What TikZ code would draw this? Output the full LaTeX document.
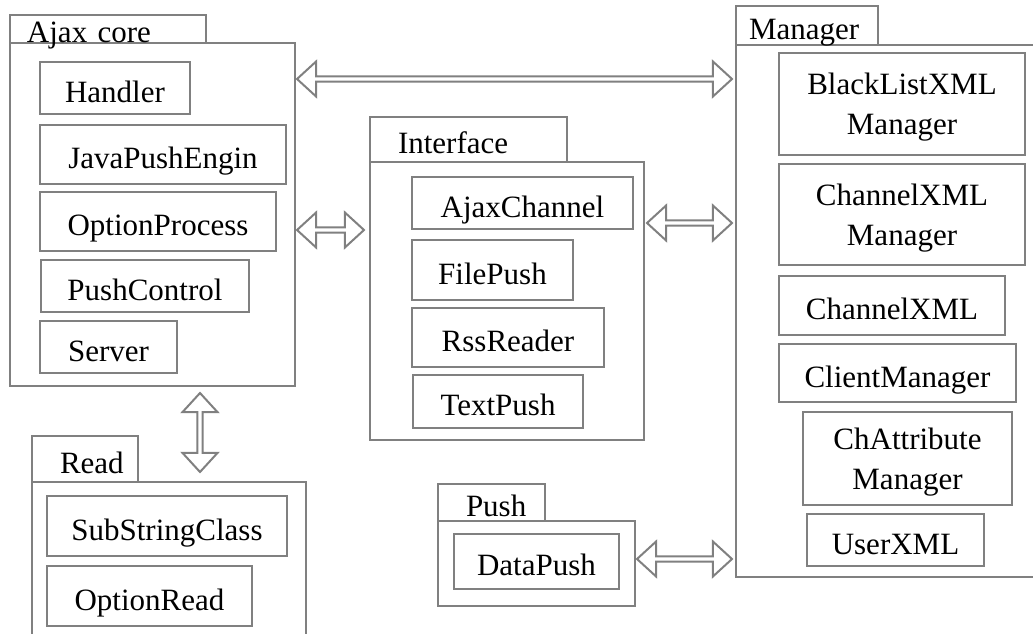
\documentclass[tikz,border=0pt]{standalone}
\usepackage{fontspec}
\setmainfont{Liberation Serif}
\usetikzlibrary{shapes.arrows,calc}

% double arrow between two points
\newcommand{\connect}[2]{%
  \path let \p1=($(#2)-(#1)$), \n1={veclen(\x1,\y1)} in
    (#1) -- (#2) node[link, midway, sloped, minimum height=\n1] {};}

\begin{document}
\begin{tikzpicture}[x=1pt, y=-1pt,
    every node/.style={font=\fontsize{31}{40}\selectfont},
    box/.style={draw=gray, line width=2pt, inner sep=0pt, outer sep=0pt},
    pkg/.style={box, anchor=north west},
    tab/.style={box, anchor=south west, align=left, text height=28pt, text depth=0pt},
    cls/.style={box, anchor=north west, text height=28pt, text depth=0pt},
    mcls/.style={box, anchor=north west, align=center, text depth=0pt},
    link/.style={double arrow, draw=gray, fill=white, line width=2pt, inner sep=0pt,
      minimum width=35pt, double arrow head extend=5.75pt, double arrow tip angle=85}]
  \useasboundingbox (0,0) rectangle (1033,634);

  % Ajax core
  \node[pkg, minimum width=285pt, minimum height=343pt] (core) at (10,43) {};
  \node[tab, minimum height=28pt, text width=162pt, inner xsep=17pt] (coretab) at (core.north west) {Ajax core};
  \node[cls, minimum width=150pt, minimum height=52pt] (handler) at (40,62) {Handler};
  \node[cls, minimum width=246pt, minimum height=59pt] (engine) at (40,125) {JavaPushEngin};
  \node[cls, minimum width=236pt, minimum height=59pt] (option) at (40,192) {OptionProcess};
  \node[cls, minimum width=208pt, minimum height=52pt] (control) at (41,260) {PushControl};
  \node[cls, minimum width=137pt, minimum height=52pt] (server) at (40,321) {Server};

  % Interface
  \node[pkg, minimum width=274pt, minimum height=278pt] (iface) at (370,162) {};
  \node[tab, minimum height=45pt, text width=141pt, inner xsep=28pt] (ifacetab) at (iface.north west) {Interface};
  \node[cls, minimum width=221pt, minimum height=52pt] (channel) at (412,177) {AjaxChannel};
  \node[cls, minimum width=161pt, minimum height=60pt] (filepush) at (412,240) {FilePush};
  \node[cls, minimum width=192pt, minimum height=59pt] (rss) at (412,308) {RssReader};
  \node[cls, minimum width=170pt, minimum height=53pt] (textpush) at (413,375) {TextPush};

  % Manager
  \node[pkg, minimum width=304pt, minimum height=532pt] (mgr) at (736,45) {};
  \node[tab, minimum height=39pt, text width=116pt, inner xsep=13pt] (mgrtab) at (mgr.north west) {Manager};
  \node[mcls, minimum width=246pt, minimum height=102pt] (blacklist) at (779,53) {BlackListXML\\Manager};
  \node[mcls, minimum width=246pt, minimum height=101pt] (chmgr) at (779,164) {ChannelXML\\Manager};
  \node[cls, minimum width=226pt, minimum height=59pt] (chxml) at (779,276) {ChannelXML};
  \node[cls, minimum width=237pt, minimum height=58pt] (client) at (779,344) {ClientManager};
  \node[mcls, minimum width=209pt, minimum height=93pt] (attr) at (803,412) {ChAttribute\\Manager};
  \node[cls, minimum width=177pt, minimum height=52pt] (user) at (807,514) {UserXML};

  % Read
  \node[pkg, minimum width=274pt, minimum height=163pt] (read) at (32,482) {};
  \node[tab, minimum height=46pt, text width=50pt, inner xsep=28pt] (readtab) at (read.north west) {Read};
  \node[cls, minimum width=240pt, minimum height=60pt] (substr) at (47,496) {SubStringClass};
  \node[cls, minimum width=205pt, minimum height=60pt] (optread) at (47,566) {OptionRead};

  % Push
  \node[pkg, minimum width=197pt, minimum height=85pt] (push) at (438,521) {};
  \node[tab, minimum height=37pt, text width=51pt, inner xsep=28pt] (pushtab) at (push.north west) {Push};
  \node[cls, minimum width=165pt, minimum height=55pt] (datapush) at (454,534) {DataPush};

  % connectors
  \coordinate (c1a) at ($(core.north east)+(2,36)$);
  \coordinate (c1b) at ($(mgr.north west)+(-4,34)$);
  \coordinate (c2a) at ($(core.north east)+(2,187)$);
  \coordinate (c2b) at ($(iface.north west)+(-6,68)$);
  \coordinate (c3a) at ($(iface.north east)+(3,61)$);
  \coordinate (c3b) at ($(mgr.north west)+(-4,178)$);
  \coordinate (c4a) at ($(core.south west)+(190,7)$);
  \coordinate (c4b) at ($(read.north west)+(168,-10)$);
  \coordinate (c5a) at ($(push.north east)+(2,38)$);
  \coordinate (c5b) at ($(mgr.north west)+(-4,514)$);
  \connect{c1a}{c1b}
  \connect{c2a}{c2b}
  \connect{c3a}{c3b}
  \connect{c4a}{c4b}
  \connect{c5a}{c5b}
\end{tikzpicture}
\end{document}
